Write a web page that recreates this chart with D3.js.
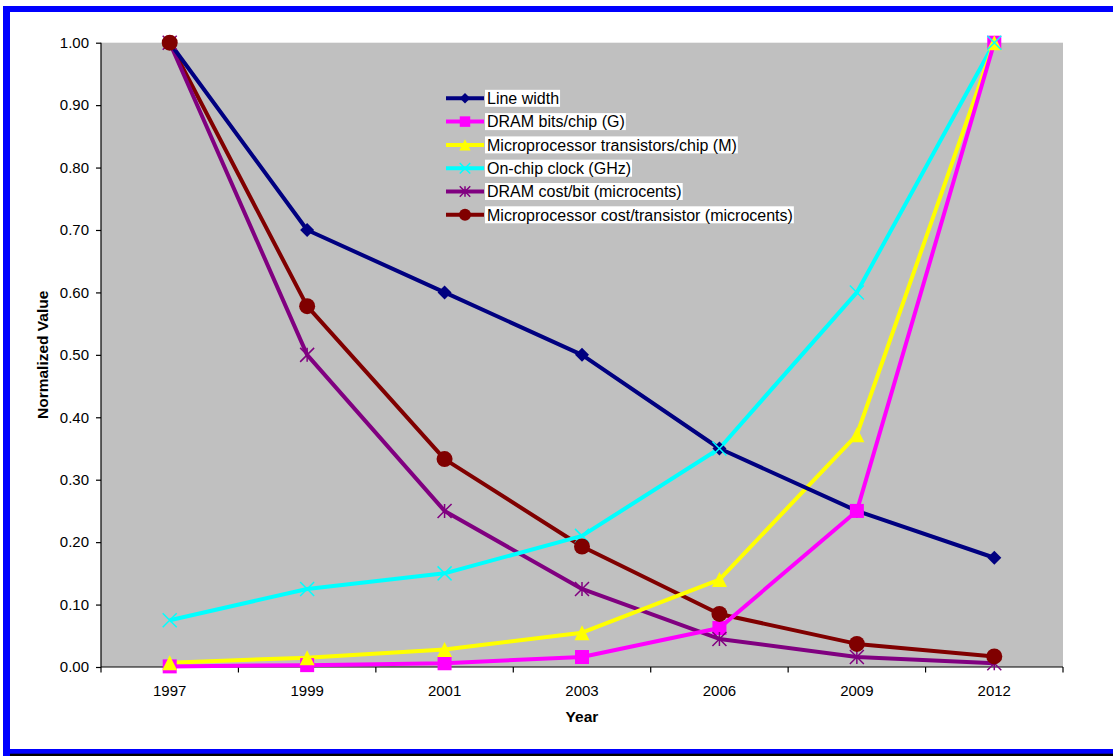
<!DOCTYPE html>
<html>
<head>
<meta charset="utf-8">
<script src="https://cdn.jsdelivr.net/npm/d3@7"></script>
<style>
  html, body { margin: 0; padding: 0; background: #fff; }
  svg { display: block; }
  text { font-family: "Liberation Sans", Arial, sans-serif; fill: #000; }
</style>
</head>
<body>
<svg id="chart" width="1113" height="756"></svg>
<script>
// Normalized technology trends, 1997–2012
const years = ["1997", "1999", "2001", "2003", "2006", "2009", "2012"];
const lineWidth      = [1.00, 0.70, 0.60, 0.50, 0.35, 0.25, 0.175];
const dramBits       = [0.001, 0.003, 0.006, 0.016, 0.0625, 0.25, 1.00];
const mpuTransistors = [0.007, 0.015, 0.028, 0.055, 0.14, 0.372, 1.00];
const clockGHz       = [0.075, 0.125, 0.15, 0.21, 0.35, 0.60, 1.00];
const dramCost       = [1.00, 0.50, 0.25, 0.125, 0.045, 0.016, 0.006];
const mpuCost        = [1.00, 0.578, 0.333, 0.193, 0.085, 0.037, 0.017];
const yTicks = [0, 0.1, 0.2, 0.3, 0.4, 0.5, 0.6, 0.7, 0.8, 0.9, 1.0];

const series = [
  { name: "Line width", values: lineWidth, color: "#000080", marker: "diamond" },
  { name: "DRAM bits/chip (G)", values: dramBits, color: "#FF00FF", marker: "square" },
  { name: "Microprocessor transistors/chip (M)", values: mpuTransistors, color: "#FFFF00", marker: "triangle" },
  { name: "On-chip clock (GHz)", values: clockGHz, color: "#00FFFF", marker: "cross" },
  { name: "DRAM cost/bit (microcents)", values: dramCost, color: "#800080", marker: "star" },
  { name: "Microprocessor cost/transistor (microcents)", values: mpuCost, color: "#800000", marker: "circle" }
];

const svg = d3.select("#chart");
const plot = { left: 101, right: 1063, top: 42.7, bottom: 667 };

// Frame
svg.append("rect").attr("x", 3).attr("y", 6).attr("width", 1110).attr("height", 6).attr("fill", "#0000FF");
svg.append("rect").attr("x", 3).attr("y", 6).attr("width", 7).attr("height", 750).attr("fill", "#0000FF");
svg.append("rect").attr("x", 3).attr("y", 749).attr("width", 1110).attr("height", 5).attr("fill", "#0000FF");
svg.append("rect").attr("x", 10).attr("y", 753.7).attr("width", 1103).attr("height", 2.3).attr("fill", "#000");

const x = d3.scaleBand().domain(years).range([plot.left, plot.right]).padding(0);
const y = d3.scaleLinear().domain([0, 1]).range([plot.bottom, plot.top]);
const cx = yr => x(yr) + x.bandwidth() / 2;

// Plot area
svg.append("rect")
  .attr("x", plot.left).attr("y", plot.top)
  .attr("width", plot.right - plot.left).attr("height", plot.bottom - plot.top)
  .attr("fill", "#C0C0C0");

// Y axis
const yAxis = svg.append("g").attr("transform", `translate(${plot.left},0)`)
  .call(d3.axisLeft(y).tickValues(yTicks).tickFormat(d3.format(".2f")).tickSize(5).tickPadding(7));
yAxis.select(".domain").attr("stroke", "#000").attr("stroke-width", 1.2).attr("d", `M0,${plot.top}V${plot.bottom}`);
yAxis.selectAll(".tick line").attr("stroke", "#000").attr("stroke-width", 1.2);
yAxis.selectAll(".tick text").style("font-size", "15px").style("font-family", "Liberation Sans, Arial, sans-serif").attr("fill", "#000");

// X axis: ticks on category boundaries, labels centred in each band
const xg = svg.append("g");
xg.append("line").attr("x1", plot.left).attr("x2", plot.right)
  .attr("y1", plot.bottom).attr("y2", plot.bottom).attr("stroke", "#000").attr("stroke-width", 1.2);
const boundaries = years.map(d => x(d)).concat([x.range()[1]]);
xg.selectAll("line.tk").data(boundaries).join("line").attr("class", "tk")
  .attr("x1", d => d).attr("x2", d => d)
  .attr("y1", plot.bottom).attr("y2", plot.bottom + 5.5)
  .attr("stroke", "#000").attr("stroke-width", 1.2);
xg.selectAll("text").data(years).join("text")
  .attr("x", d => cx(d)).attr("y", 695.5)
  .attr("text-anchor", "middle").style("font-size", "15px").text(d => d);

// Axis titles
svg.append("text").attr("x", (plot.left + plot.right) / 2).attr("y", 722)
  .attr("text-anchor", "middle").style("font-size", "15.5px").style("font-weight", "bold").text("Year");
svg.append("text").attr("transform", `translate(48,${(plot.top + plot.bottom) / 2}) rotate(-90)`)
  .attr("text-anchor", "middle").style("font-size", "15.5px").style("font-weight", "bold").text("Normalized Value");

// Marker drawing
function drawMarker(g, type, color, s) {
  const h = s / 2;
  if (type === "diamond") {
    g.append("path").attr("d", `M0,${-h}L${h},0L0,${h}L${-h},0Z`).attr("fill", color);
  } else if (type === "square") {
    g.append("rect").attr("x", -h).attr("y", -h).attr("width", s).attr("height", s).attr("fill", color);
  } else if (type === "triangle") {
    g.append("path").attr("d", `M0,${-h}L${h},${h}L${-h},${h}Z`).attr("fill", color);
  } else if (type === "cross") {
    g.append("path").attr("d", `M${-h},${-h}L${h},${h}M${-h},${h}L${h},${-h}`)
      .attr("stroke", color).attr("stroke-width", 1.5).attr("fill", "none");
  } else if (type === "star") {
    g.append("path").attr("d", `M${-h},${-h}L${h},${h}M${-h},${h}L${h},${-h}M0,${-h}L0,${h}`)
      .attr("stroke", color).attr("stroke-width", 1.5).attr("fill", "none");
  } else if (type === "circle") {
    g.append("circle").attr("r", h).attr("fill", color);
  }
}
const markerSize = { diamond: 14, square: 14, triangle: 15, cross: 14, star: 14, circle: 16 };

// Lines (later series underneath)
const line = d3.line().x((d, i) => cx(years[i])).y(d => y(d));
series.slice().reverse().forEach(s => {
  svg.append("path").datum(s.values).attr("d", line)
    .attr("fill", "none").attr("stroke", s.color).attr("stroke-width", 4)
    .attr("stroke-linejoin", "round");
});

// Markers in series order
series.forEach(s => {
  s.values.forEach((v, i) => {
    const g = svg.append("g").attr("transform", `translate(${cx(years[i])},${y(v)})`);
    drawMarker(g, s.marker, s.color, markerSize[s.marker]);
  });
});

// Legend
const legend = svg.append("g");
series.forEach((s, i) => {
  const ry = 98.3 + i * 23.3;
  const row = legend.append("g").attr("transform", `translate(0,${ry})`);
  row.append("line").attr("x1", 446).attr("x2", 484).attr("y1", 0).attr("y2", 0)
    .attr("stroke", s.color).attr("stroke-width", 4);
  const mg = row.append("g").attr("transform", "translate(465,0)");
  drawMarker(mg, s.marker, s.color, markerSize[s.marker] * 0.75);
  const bg = row.append("rect").attr("fill", "#fff");
  const t = row.append("text").attr("x", 487).attr("y", 5.8).style("font-size", "16px").text(s.name);
  const bb = t.node().getBBox();
  bg.attr("x", 485).attr("y", -8.5).attr("width", bb.width + 3).attr("height", 17);
});
</script>
</body>
</html>
